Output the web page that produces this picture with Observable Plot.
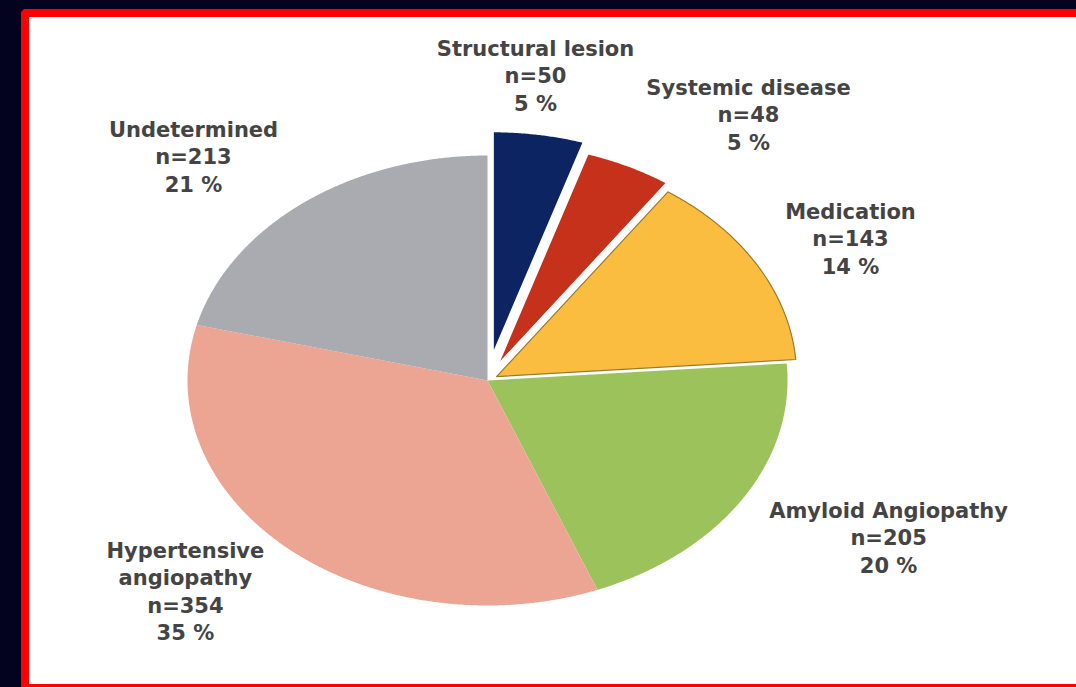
<!DOCTYPE html>
<html>
<head>
<meta charset="utf-8">
<script src="https://cdn.jsdelivr.net/npm/d3@7"></script>
<script src="https://cdn.jsdelivr.net/npm/@observablehq/plot@0.6"></script>
<style>
  html, body { margin: 0; padding: 0; width: 1076px; height: 687px; overflow: hidden; background: #03031f; }
  #frame { position: absolute; left: 21px; top: 9px; width: 1100px; height: 667px;
           border-left: 8px solid #ff0000; border-top: 8px solid #ff0000; border-bottom: 3px solid #ff0000;
           border-top-left-radius: 5px; background: #ffffff; }
  #chart { position: absolute; left: 0; top: 0; }
</style>
</head>
<body>
<div id="frame"></div>
<div id="chart"></div>
<script>
// Data
const categories = ["Structural lesion", "Systemic disease", "Medication", "Amyloid Angiopathy", "Hypertensive\nangiopathy", "Undetermined"];
const counts = [50, 48, 143, 205, 354, 213];
const colors = ["#0c2461", "#c5311b", "#fbbd40", "#9cc35b", "#eca593", "#a9abb0"];
const strokes = ["#ffffff", "#ffffff", "#9c7a2c", "none", "none", "none"];
// label anchor (in pie units)
const labelX = [0.16, 0.87, 1.21, 1.337, -1.007, -0.98];
const labelY = [1.36, 1.187, 0.636, -0.693, -0.933, 1.0];

const explode = [0.11, 0.065, 0.035, 0, 0, 0];
const total = d3.sum(counts);
const arcs = d3.pie().sort(null).value(d => d)(counts);

function slicePoints(i) {
  const a = arcs[i];
  const mid = (a.startAngle + a.endAngle) / 2;
  const ox = explode[i] * Math.sin(mid), oy = explode[i] * Math.cos(mid);
  const pts = [{x: ox, y: oy}];
  const n = Math.max(8, Math.ceil((a.endAngle - a.startAngle) / 0.005));
  for (let k = 0; k <= n; k++) {
    const t = a.startAngle + (a.endAngle - a.startAngle) * k / n;
    pts.push({x: ox + Math.sin(t), y: oy + Math.cos(t)});
  }
  pts.push({x: ox, y: oy});
  return pts;
}

const order = [3, 4, 5, 2, 1, 0];
const sliceMarks = order.map(i => Plot.line(slicePoints(i), {
  x: "x", y: "y", curve: "linear",
  fill: colors[i], stroke: strokes[i],
  strokeWidth: i === 2 ? 1.2 : 2.5, strokeLinejoin: "miter"
}));

const labels = categories.map((c, i) => ({
  text: `${c}\nn=${counts[i]}\n${Math.round(counts[i] / total * 100)} %`,
  x: labelX[i], y: labelY[i]
}));

const chart = Plot.plot({
  width: 1076, height: 687,
  marginLeft: 187, marginRight: 289, marginTop: 155, marginBottom: 82,
  x: {domain: [-1, 1], axis: null},
  y: {domain: [-1, 1], axis: null},
  style: {background: "transparent", fontFamily: "'DejaVu Sans', sans-serif"},
  marks: [
    ...sliceMarks,
    Plot.text(labels, {x: "x", y: "y", text: "text", fontSize: 21, fontWeight: "bold",
      fill: "#444444", lineHeight: 1.31, lineAnchor: "middle", textAnchor: "middle"})
  ]
});
document.getElementById("chart").appendChild(chart);
</script>
</body>
</html>
